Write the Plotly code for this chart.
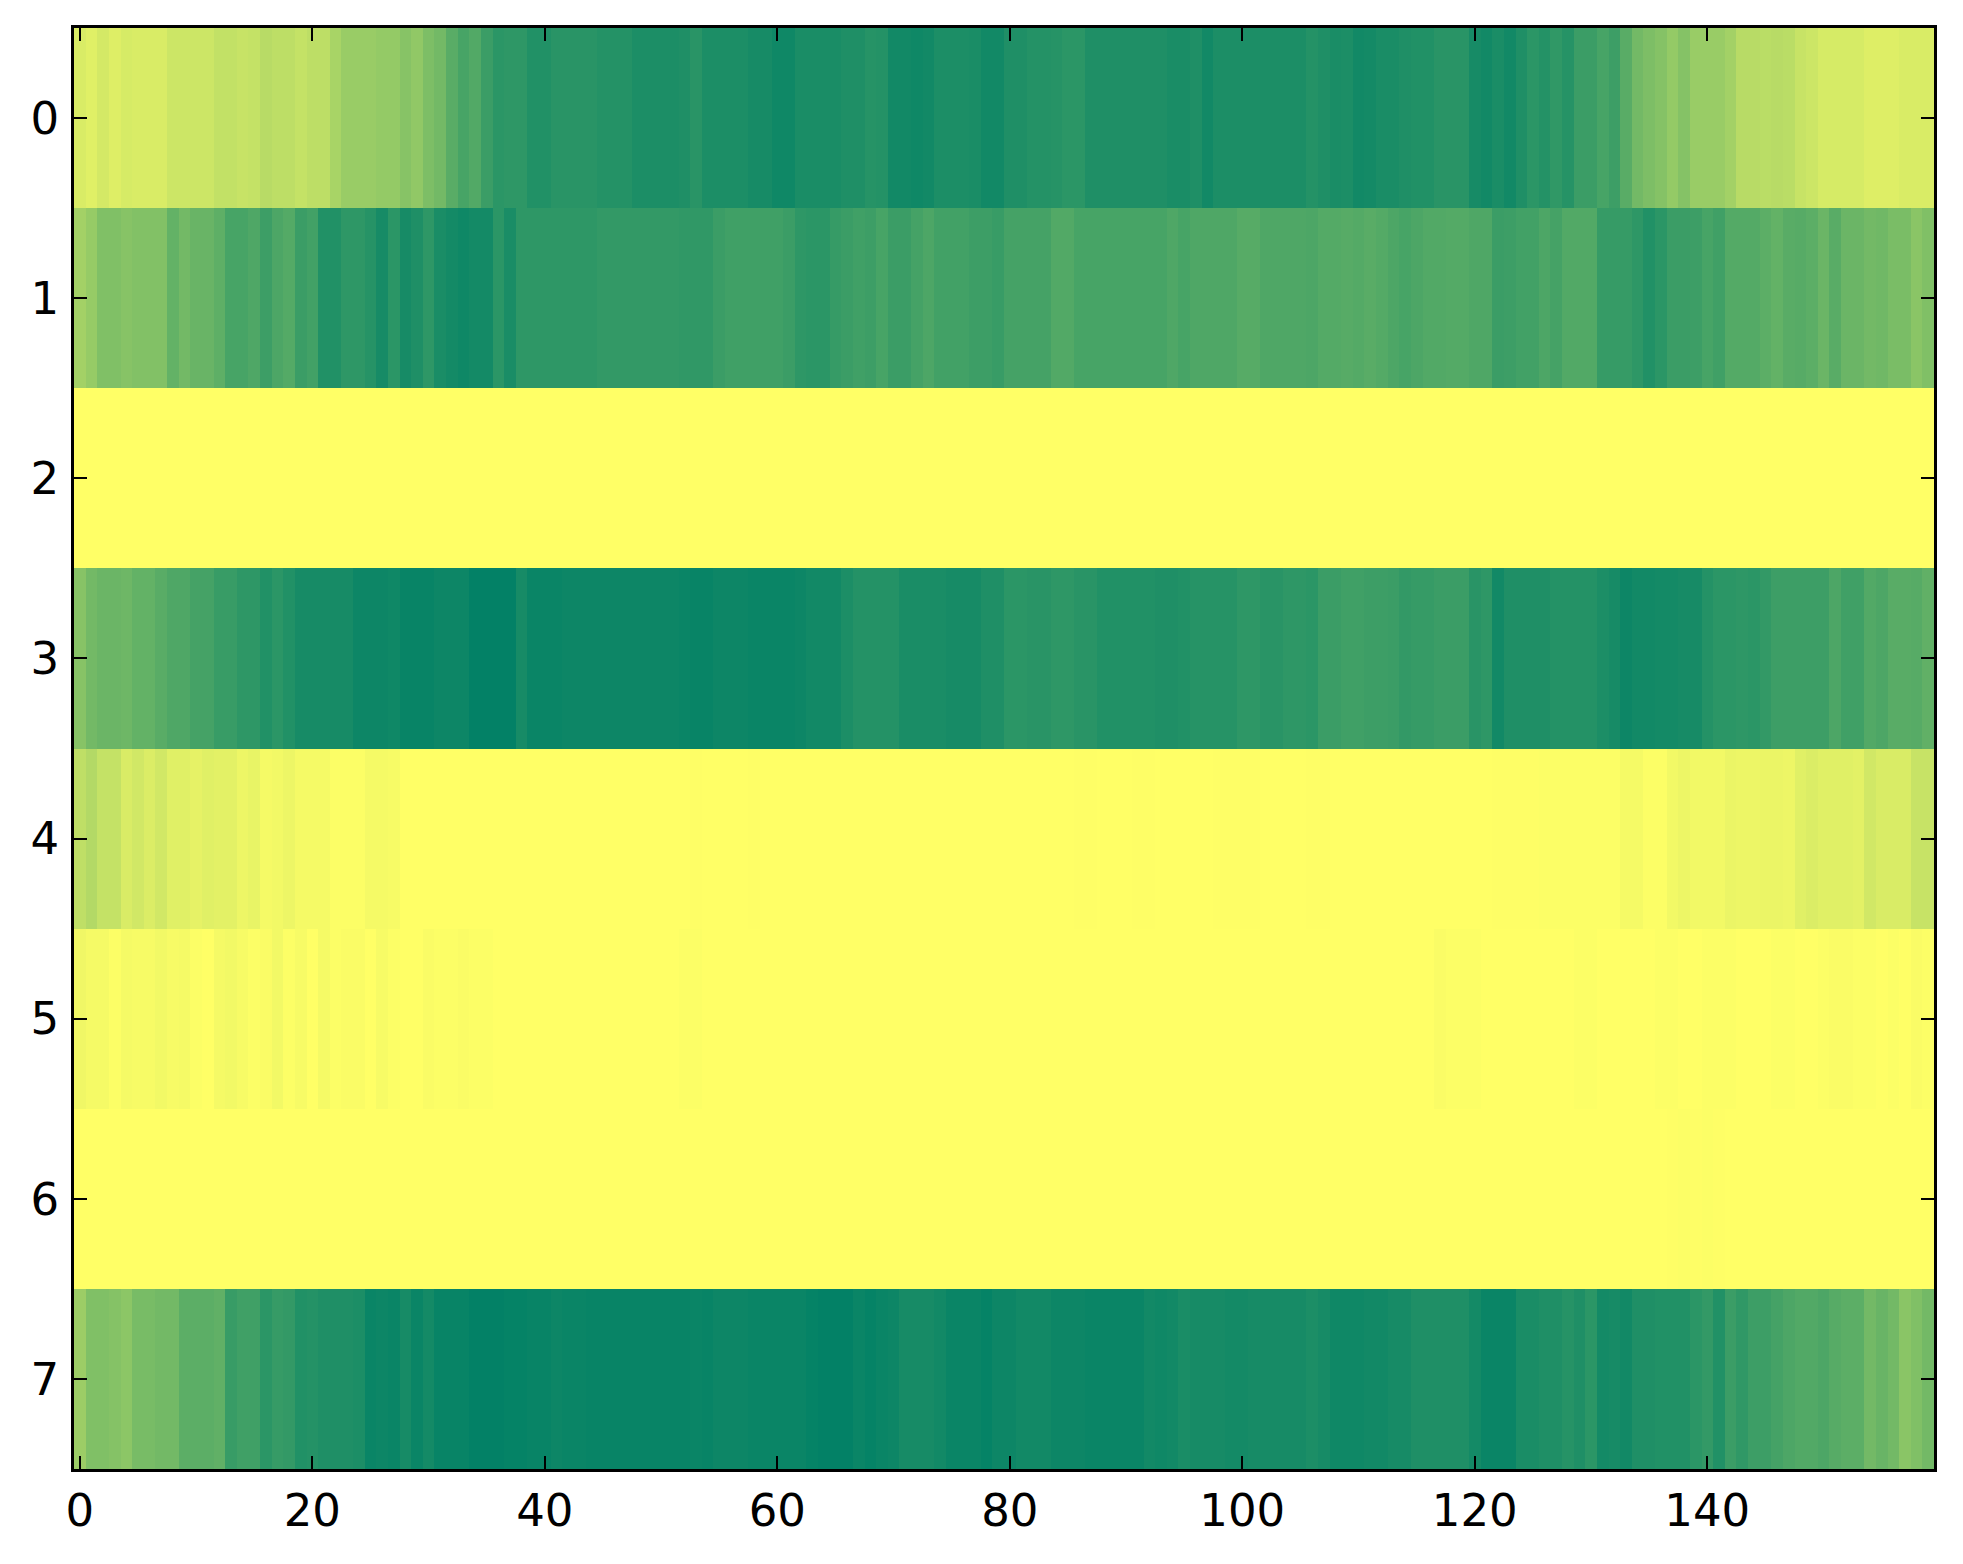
import plotly.graph_objects as go

# Column index (x) and row index (y)
cols = list(range(160))
rows = [0, 1, 2, 3, 4, 5, 6, 7]
x_ticks = [0, 20, 40, 60, 80, 100, 120, 140]
y_ticks = [0, 1, 2, 3, 4, 5, 6, 7]

row0 = [0.85, 0.88, 0.83, 0.87, 0.84, 0.85, 0.85, 0.85, 0.80, 0.80,
        0.80, 0.80, 0.76, 0.76, 0.78, 0.77, 0.72, 0.74, 0.74, 0.77,
        0.74, 0.74, 0.66, 0.60, 0.60, 0.60, 0.58, 0.58, 0.53, 0.57,
        0.49, 0.45, 0.35, 0.28, 0.32, 0.23, 0.17, 0.18, 0.18, 0.13,
        0.13, 0.16, 0.16, 0.16, 0.16, 0.14, 0.14, 0.14, 0.11, 0.11,
        0.11, 0.11, 0.12, 0.16, 0.11, 0.11, 0.11, 0.11, 0.09, 0.09,
        0.06, 0.06, 0.10, 0.10, 0.10, 0.10, 0.12, 0.12, 0.15, 0.14,
        0.07, 0.07, 0.06, 0.07, 0.11, 0.11, 0.11, 0.10, 0.07, 0.07,
        0.12, 0.12, 0.14, 0.14, 0.15, 0.17, 0.17, 0.12, 0.12, 0.12,
        0.12, 0.12, 0.12, 0.12, 0.10, 0.10, 0.12, 0.07, 0.11, 0.11,
        0.11, 0.11, 0.11, 0.11, 0.11, 0.11, 0.14, 0.12, 0.10, 0.11,
        0.07, 0.08, 0.10, 0.10, 0.12, 0.13, 0.13, 0.16, 0.16, 0.16,
        0.09, 0.07, 0.10, 0.07, 0.12, 0.17, 0.14, 0.19, 0.15, 0.23,
        0.23, 0.28, 0.24, 0.35, 0.45, 0.49, 0.52, 0.58, 0.52, 0.60,
        0.60, 0.60, 0.64, 0.72, 0.72, 0.73, 0.72, 0.73, 0.78, 0.80,
        0.84, 0.84, 0.84, 0.84, 0.87, 0.87, 0.87, 0.85, 0.85, 0.85]

row1 = [0.64, 0.59, 0.50, 0.50, 0.53, 0.51, 0.51, 0.51, 0.39, 0.45,
        0.41, 0.41, 0.37, 0.28, 0.28, 0.31, 0.24, 0.30, 0.33, 0.23,
        0.26, 0.13, 0.13, 0.18, 0.18, 0.15, 0.09, 0.17, 0.09, 0.12,
        0.18, 0.10, 0.08, 0.06, 0.08, 0.08, 0.17, 0.10, 0.18, 0.18,
        0.18, 0.18, 0.18, 0.18, 0.18, 0.20, 0.20, 0.20, 0.20, 0.20,
        0.20, 0.20, 0.19, 0.19, 0.19, 0.23, 0.25, 0.25, 0.25, 0.25,
        0.25, 0.23, 0.18, 0.17, 0.17, 0.21, 0.23, 0.25, 0.24, 0.28,
        0.23, 0.23, 0.27, 0.30, 0.26, 0.26, 0.26, 0.24, 0.24, 0.22,
        0.27, 0.27, 0.27, 0.27, 0.32, 0.32, 0.28, 0.28, 0.28, 0.28,
        0.28, 0.28, 0.28, 0.28, 0.31, 0.28, 0.31, 0.31, 0.31, 0.31,
        0.34, 0.34, 0.31, 0.31, 0.31, 0.31, 0.30, 0.33, 0.33, 0.34,
        0.33, 0.35, 0.33, 0.30, 0.28, 0.30, 0.32, 0.32, 0.33, 0.33,
        0.31, 0.31, 0.23, 0.24, 0.26, 0.26, 0.30, 0.27, 0.32, 0.32,
        0.32, 0.21, 0.21, 0.21, 0.18, 0.13, 0.17, 0.23, 0.23, 0.24,
        0.28, 0.25, 0.33, 0.33, 0.33, 0.36, 0.39, 0.35, 0.34, 0.36,
        0.42, 0.35, 0.42, 0.42, 0.45, 0.44, 0.48, 0.48, 0.54, 0.50]

row2 = [1.00, 1.00, 1.00, 1.00, 1.00, 1.00, 1.00, 1.00, 1.00, 1.00,
        1.00, 1.00, 1.00, 1.00, 1.00, 1.00, 1.00, 1.00, 1.00, 1.00,
        1.00, 1.00, 1.00, 1.00, 1.00, 1.00, 1.00, 1.00, 1.00, 1.00,
        1.00, 1.00, 1.00, 1.00, 1.00, 1.00, 1.00, 1.00, 1.00, 1.00,
        1.00, 1.00, 1.00, 1.00, 1.00, 1.00, 1.00, 1.00, 1.00, 1.00,
        1.00, 1.00, 1.00, 1.00, 1.00, 1.00, 1.00, 1.00, 1.00, 1.00,
        1.00, 1.00, 1.00, 1.00, 1.00, 1.00, 1.00, 1.00, 1.00, 1.00,
        1.00, 1.00, 1.00, 1.00, 1.00, 1.00, 1.00, 1.00, 1.00, 1.00,
        1.00, 1.00, 1.00, 1.00, 1.00, 1.00, 1.00, 1.00, 1.00, 1.00,
        1.00, 1.00, 1.00, 1.00, 1.00, 1.00, 1.00, 1.00, 1.00, 1.00,
        1.00, 1.00, 1.00, 1.00, 1.00, 1.00, 1.00, 1.00, 1.00, 1.00,
        1.00, 1.00, 1.00, 1.00, 1.00, 1.00, 1.00, 1.00, 1.00, 1.00,
        1.00, 1.00, 1.00, 1.00, 1.00, 1.00, 1.00, 1.00, 1.00, 1.00,
        1.00, 1.00, 1.00, 1.00, 1.00, 1.00, 1.00, 1.00, 1.00, 1.00,
        1.00, 1.00, 1.00, 1.00, 1.00, 1.00, 1.00, 1.00, 1.00, 1.00,
        1.00, 1.00, 1.00, 1.00, 1.00, 1.00, 1.00, 1.00, 1.00, 1.00]

row3 = [0.53, 0.45, 0.42, 0.42, 0.43, 0.39, 0.39, 0.35, 0.31, 0.31,
        0.27, 0.27, 0.22, 0.22, 0.18, 0.18, 0.13, 0.17, 0.13, 0.09,
        0.09, 0.09, 0.09, 0.09, 0.05, 0.05, 0.05, 0.06, 0.03, 0.03,
        0.03, 0.05, 0.05, 0.05, 0.01, 0.01, 0.01, 0.01, 0.09, 0.04,
        0.04, 0.04, 0.05, 0.05, 0.05, 0.05, 0.05, 0.05, 0.05, 0.05,
        0.05, 0.05, 0.04, 0.03, 0.03, 0.05, 0.05, 0.05, 0.04, 0.04,
        0.04, 0.04, 0.05, 0.07, 0.07, 0.07, 0.11, 0.14, 0.14, 0.14,
        0.14, 0.10, 0.10, 0.10, 0.10, 0.09, 0.09, 0.09, 0.12, 0.12,
        0.17, 0.17, 0.16, 0.16, 0.18, 0.18, 0.16, 0.16, 0.13, 0.13,
        0.13, 0.13, 0.13, 0.12, 0.12, 0.13, 0.15, 0.15, 0.15, 0.15,
        0.18, 0.18, 0.16, 0.16, 0.18, 0.18, 0.17, 0.23, 0.23, 0.25,
        0.25, 0.24, 0.24, 0.23, 0.20, 0.21, 0.21, 0.23, 0.23, 0.23,
        0.16, 0.18, 0.07, 0.12, 0.12, 0.12, 0.12, 0.14, 0.14, 0.14,
        0.14, 0.11, 0.09, 0.05, 0.07, 0.07, 0.08, 0.08, 0.09, 0.09,
        0.14, 0.17, 0.17, 0.18, 0.17, 0.20, 0.24, 0.24, 0.24, 0.24,
        0.24, 0.30, 0.25, 0.25, 0.32, 0.30, 0.35, 0.35, 0.34, 0.38]

row4 = [0.75, 0.70, 0.77, 0.77, 0.85, 0.82, 0.86, 0.82, 0.88, 0.88,
        0.90, 0.88, 0.89, 0.89, 0.93, 0.91, 0.96, 0.95, 0.93, 0.96,
        0.96, 0.96, 0.99, 0.99, 0.99, 0.96, 0.96, 0.97, 1.00, 1.00,
        1.00, 1.00, 1.00, 1.00, 1.00, 1.00, 1.00, 1.00, 1.00, 1.00,
        1.00, 1.00, 1.00, 1.00, 1.00, 1.00, 1.00, 1.00, 1.00, 1.00,
        1.00, 1.00, 1.00, 0.995, 1.00, 1.00, 1.00, 1.00, 0.995, 1.00,
        1.00, 1.00, 1.00, 1.00, 1.00, 1.00, 1.00, 1.00, 1.00, 1.00,
        1.00, 1.00, 1.00, 1.00, 1.00, 1.00, 1.00, 1.00, 1.00, 1.00,
        1.00, 1.00, 1.00, 1.00, 1.00, 1.00, 0.995, 0.995, 1.00, 1.00,
        1.00, 0.995, 0.995, 1.00, 1.00, 1.00, 1.00, 1.00, 0.995, 0.995,
        0.995, 0.995, 1.00, 1.00, 1.00, 1.00, 0.995, 0.995, 1.00, 1.00,
        1.00, 1.00, 1.00, 1.00, 1.00, 1.00, 1.00, 1.00, 1.00, 1.00,
        1.00, 1.00, 0.995, 0.995, 0.995, 0.995, 0.99, 0.99, 0.99, 0.99,
        0.99, 0.99, 0.99, 0.96, 0.96, 0.99, 0.99, 0.95, 0.93, 0.95,
        0.95, 0.95, 0.92, 0.93, 0.93, 0.92, 0.92, 0.93, 0.88, 0.86,
        0.88, 0.88, 0.88, 0.89, 0.82, 0.85, 0.85, 0.85, 0.78, 0.78]

row5 = [0.94, 0.96, 0.96, 0.99, 0.96, 0.97, 0.97, 0.95, 0.97, 0.96,
        0.99, 1.00, 0.96, 0.95, 0.97, 0.99, 0.98, 0.95, 0.99, 0.97,
        1.00, 0.96, 0.99, 0.98, 0.98, 1.00, 0.97, 0.99, 1.00, 1.00,
        0.98, 0.99, 0.99, 0.98, 0.99, 0.99, 1.00, 1.00, 1.00, 1.00,
        1.00, 1.00, 1.00, 1.00, 1.00, 1.00, 1.00, 1.00, 1.00, 1.00,
        1.00, 1.00, 0.99, 0.99, 1.00, 1.00, 1.00, 1.00, 1.00, 1.00,
        1.00, 1.00, 1.00, 1.00, 1.00, 1.00, 1.00, 1.00, 1.00, 1.00,
        1.00, 1.00, 1.00, 1.00, 1.00, 1.00, 1.00, 1.00, 1.00, 1.00,
        1.00, 1.00, 1.00, 1.00, 1.00, 1.00, 1.00, 1.00, 1.00, 1.00,
        1.00, 1.00, 1.00, 1.00, 1.00, 1.00, 1.00, 1.00, 1.00, 1.00,
        1.00, 1.00, 1.00, 1.00, 1.00, 1.00, 1.00, 1.00, 1.00, 1.00,
        1.00, 1.00, 1.00, 1.00, 1.00, 1.00, 1.00, 0.98, 0.99, 0.99,
        0.99, 1.00, 1.00, 1.00, 1.00, 1.00, 1.00, 1.00, 1.00, 0.99,
        0.99, 1.00, 1.00, 1.00, 1.00, 1.00, 0.99, 0.99, 1.00, 1.00,
        0.99, 0.99, 0.99, 1.00, 1.00, 1.00, 0.99, 0.99, 1.00, 1.00,
        0.99, 0.98, 0.98, 0.99, 0.99, 1.00, 0.99, 1.00, 0.98, 0.99]

row6 = [1.00, 1.00, 1.00, 1.00, 1.00, 1.00, 1.00, 1.00, 1.00, 1.00,
        1.00, 1.00, 1.00, 1.00, 1.00, 1.00, 1.00, 1.00, 1.00, 1.00,
        1.00, 1.00, 1.00, 1.00, 1.00, 1.00, 1.00, 1.00, 1.00, 1.00,
        1.00, 1.00, 1.00, 1.00, 1.00, 1.00, 1.00, 1.00, 1.00, 1.00,
        1.00, 1.00, 1.00, 1.00, 1.00, 1.00, 1.00, 1.00, 1.00, 1.00,
        1.00, 1.00, 1.00, 1.00, 1.00, 1.00, 1.00, 1.00, 1.00, 1.00,
        1.00, 1.00, 1.00, 1.00, 1.00, 1.00, 1.00, 1.00, 1.00, 1.00,
        1.00, 1.00, 1.00, 1.00, 1.00, 1.00, 1.00, 1.00, 1.00, 1.00,
        1.00, 1.00, 1.00, 1.00, 1.00, 1.00, 1.00, 1.00, 1.00, 1.00,
        1.00, 1.00, 1.00, 1.00, 1.00, 1.00, 1.00, 1.00, 1.00, 1.00,
        1.00, 1.00, 1.00, 1.00, 1.00, 1.00, 1.00, 1.00, 1.00, 1.00,
        1.00, 1.00, 1.00, 1.00, 1.00, 1.00, 1.00, 1.00, 1.00, 1.00,
        1.00, 1.00, 1.00, 1.00, 1.00, 1.00, 1.00, 1.00, 1.00, 1.00,
        1.00, 1.00, 1.00, 1.00, 1.00, 1.00, 1.00, 0.995, 0.99, 0.995,
        0.99, 0.995, 1.00, 1.00, 1.00, 1.00, 1.00, 1.00, 1.00, 1.00,
        1.00, 1.00, 1.00, 1.00, 1.00, 1.00, 1.00, 1.00, 1.00, 1.00]

row7 = [0.61, 0.50, 0.50, 0.52, 0.55, 0.47, 0.47, 0.45, 0.45, 0.36,
        0.36, 0.36, 0.38, 0.22, 0.25, 0.25, 0.17, 0.21, 0.20, 0.13,
        0.14, 0.12, 0.12, 0.12, 0.11, 0.04, 0.05, 0.04, 0.09, 0.04,
        0.08, 0.03, 0.03, 0.03, 0.01, 0.01, 0.01, 0.02, 0.02, 0.03,
        0.03, 0.05, 0.04, 0.04, 0.03, 0.03, 0.03, 0.03, 0.03, 0.03,
        0.03, 0.03, 0.03, 0.04, 0.03, 0.05, 0.05, 0.05, 0.04, 0.04,
        0.04, 0.04, 0.04, 0.02, 0.01, 0.01, 0.01, 0.04, 0.02, 0.04,
        0.05, 0.09, 0.09, 0.09, 0.07, 0.04, 0.04, 0.04, 0.02, 0.05,
        0.05, 0.07, 0.07, 0.07, 0.05, 0.05, 0.05, 0.04, 0.04, 0.04,
        0.04, 0.04, 0.07, 0.06, 0.07, 0.10, 0.09, 0.09, 0.09, 0.08,
        0.08, 0.09, 0.09, 0.09, 0.09, 0.09, 0.11, 0.09, 0.06, 0.06,
        0.06, 0.07, 0.07, 0.09, 0.09, 0.12, 0.12, 0.12, 0.12, 0.12,
        0.08, 0.04, 0.04, 0.04, 0.10, 0.10, 0.12, 0.12, 0.15, 0.12,
        0.17, 0.08, 0.09, 0.07, 0.12, 0.12, 0.13, 0.13, 0.13, 0.17,
        0.20, 0.13, 0.23, 0.19, 0.24, 0.24, 0.27, 0.30, 0.32, 0.32,
        0.30, 0.34, 0.36, 0.36, 0.45, 0.41, 0.45, 0.54, 0.50, 0.45]

z = [row0, row1, row2, row3, row4, row5, row6, row7]

# matplotlib "summer" colormap
summer = [[0.0, "rgb(0,128,102)"], [1.0, "rgb(255,255,102)"]]

fig = go.Figure(go.Heatmap(
    z=z, x=cols, y=rows,
    colorscale=summer, zmin=0, zmax=1,
    showscale=False, hoverinfo="skip",
))

axis_common = dict(
    showgrid=False, zeroline=False,
    showline=True, linecolor="black", linewidth=2.5,
    mirror="ticks", ticks="inside", ticklen=13, tickwidth=2, tickcolor="black",
    tickfont=dict(family="DejaVu Sans", size=45, color="black"),
)

fig.update_layout(
    width=1963, height=1564,
    margin=dict(l=66, r=37, t=20, b=103),
    paper_bgcolor="white", plot_bgcolor="white",
    xaxis=dict(range=[-0.5, 159.5], tickvals=x_ticks,
               ticklabelstandoff=0, **axis_common),
    yaxis=dict(range=[7.5, -0.5], tickvals=y_ticks,
               ticklabelstandoff=3, **axis_common),
)

fig.write_html("out.html")
